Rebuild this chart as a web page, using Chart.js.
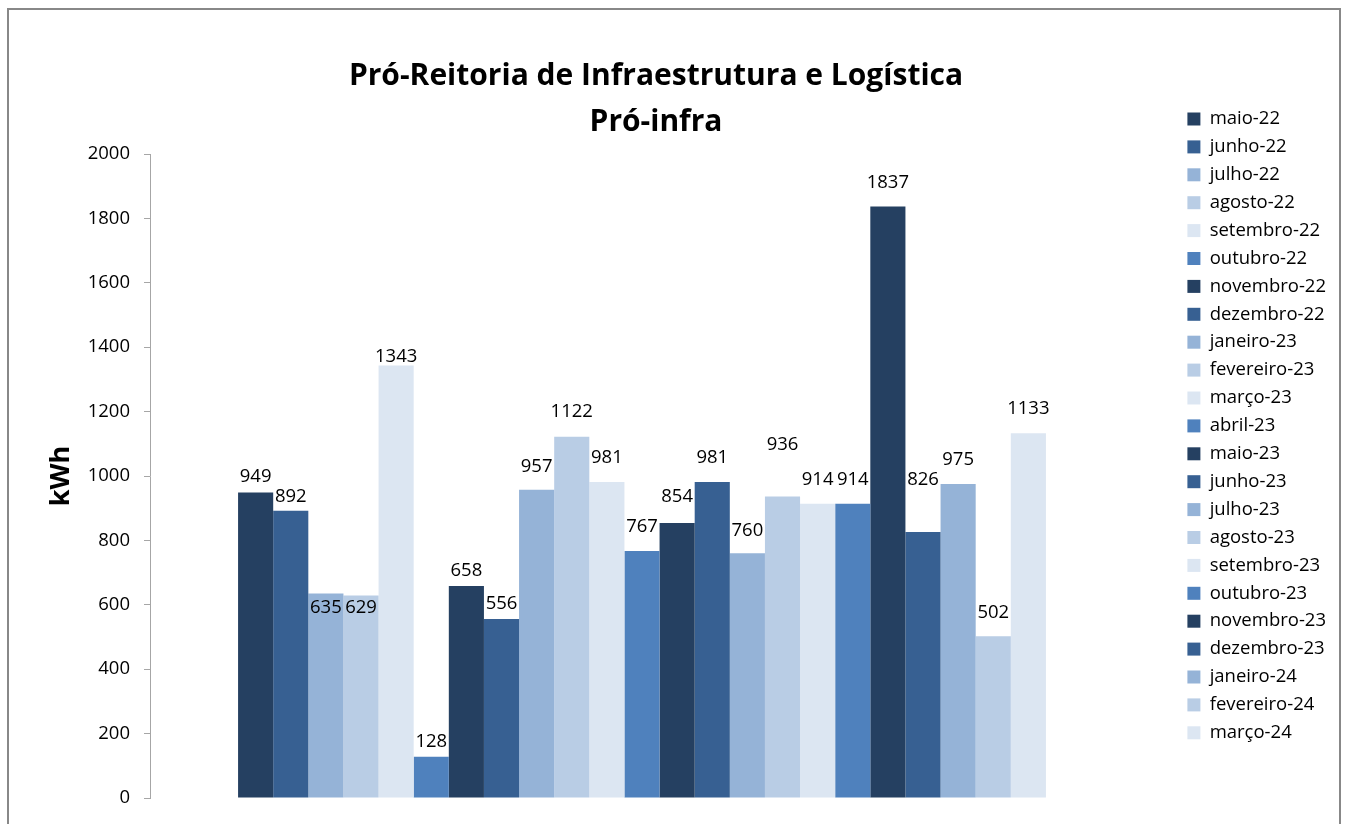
<!DOCTYPE html>
<html>
<head>
<meta charset="utf-8">
<script src="https://cdn.jsdelivr.net/npm/chart.js@4"></script>
<style>
  html, body { margin: 0; padding: 0; background: #fff; overflow: hidden; width: 1346px; height: 824px; }
  #wrap { position: absolute; left: -24px; top: 0; width: 1370px; height: 824px; }
  #frame { position: absolute; left: 7px; top: 8px; width: 1334px; height: 900px; box-sizing: border-box;
           border: 2px solid #888; pointer-events: none; }
</style>
</head>
<body>
<div id="wrap"><canvas id="chart"></canvas></div>
<div id="frame"></div>
<script>
// meses (cada mês é uma série)
const months = [
  "maio-22", "junho-22", "julho-22", "agosto-22", "setembro-22", "outubro-22",
  "novembro-22", "dezembro-22", "janeiro-23", "fevereiro-23", "março-23", "abril-23",
  "maio-23", "junho-23", "julho-23", "agosto-23", "setembro-23", "outubro-23",
  "novembro-23", "dezembro-23", "janeiro-24", "fevereiro-24", "março-24"
];
// consumo em kWh
const values = [
  949, 892, 635, 629, 1343, 128,
  658, 556, 957, 1122, 981, 767,
  854, 981, 760, 936, 914, 914,
  1837, 826, 975, 502, 1133
];
const categories = [""];
const yTicks = { min: 0, max: 2000, step: 200 };

// paleta que se repete a cada 6 meses
const palette = ["#254061", "#376092", "#95B3D7", "#B9CDE5", "#DCE6F2", "#4F81BD"];

const FONT = "'Open Sans', sans-serif";

// distância (px) entre o centro do rótulo e o topo da barra, como no original
const labelGap = [
  16, 14, -14, -12, 9, 15,
  15, 15, 23, 25, 24, 24,
  26, 24, 23, 52, 24, 24,
  24, 52, 24, 24, 24
];

// rótulos de valor acima das barras
const valueLabels = {
  id: "valueLabels",
  afterDatasetsDraw(chart) {
    const ctx = chart.ctx;
    ctx.save();
    ctx.font = "18.5px " + FONT;
    ctx.fillStyle = "#000";
    ctx.textAlign = "center";
    ctx.textBaseline = "middle";
    chart.data.datasets.forEach((ds, i) => {
      const bar = chart.getDatasetMeta(i).data[0];
      if (!bar) return;
      ctx.fillText(String(ds.data[0]), bar.x, bar.y - labelGap[i]);
    });
    ctx.restore();
  }
};

const datasets = months.map((m, i) => ({
  label: m,
  data: [values[i]],
  backgroundColor: palette[i % palette.length],
  borderWidth: 0,
  categoryPercentage: 0.821,
  barPercentage: 1.0,
  yAxisID: "y",
}));

new Chart(document.getElementById("chart"), {
  type: "bar",
  data: { labels: categories, datasets: datasets },
  plugins: [valueLabels],
  options: {
    responsive: true,
    maintainAspectRatio: false,
    animation: false,
    layout: { padding: { left: 0, right: 10, top: 0, bottom: 26 } },
    plugins: {
      tooltip: { enabled: false },
      title: {
        display: true,
        text: ["Pró-Reitoria de Infraestrutura e Logística", "Pró-infra"],
        color: "#000",
        font: { family: FONT, size: 30, weight: "bold", lineHeight: 46 / 30 },
        padding: { top: 53, bottom: 9 },
      },
      legend: {
        position: "right",
        fullSize: true,
        title: { display: true, text: " ", padding: { top: 39.4, bottom: 0 } },
        labels: {
          boxWidth: 13,
          boxHeight: 13,
          padding: 9.4,
          color: "#000",
          font: { family: FONT, size: 18.5 },
        },
      },
    },
    scales: {
      x: { display: false },
      y: {
        position: "left",
        min: yTicks.min,
        max: yTicks.max,
        ticks: {
          stepSize: yTicks.step,
          color: "#000",
          padding: 14,
          font: { family: FONT, size: 18.5 },
          callback: (v) => String(v),
        },
        grid: { display: true, drawOnChartArea: false, drawTicks: true, tickLength: 6, color: "#A6A6A6" },
        border: { display: true, color: "#A6A6A6", width: 1 },
        title: {
          display: true,
          text: "kWh",
          color: "#000",
          font: { family: FONT, size: 27, weight: "bold" },
          padding: { top: 69, bottom: 0 },
        },
        afterFit(scale) { scale.width = 174; },
      },
      spacer: {
        position: "right",
        display: true,
        grid: { display: false },
        border: { display: false },
        ticks: { display: false },
        afterFit(scale) { scale.width = 44; },
      },
    },
  },
});
</script>
</body>
</html>
